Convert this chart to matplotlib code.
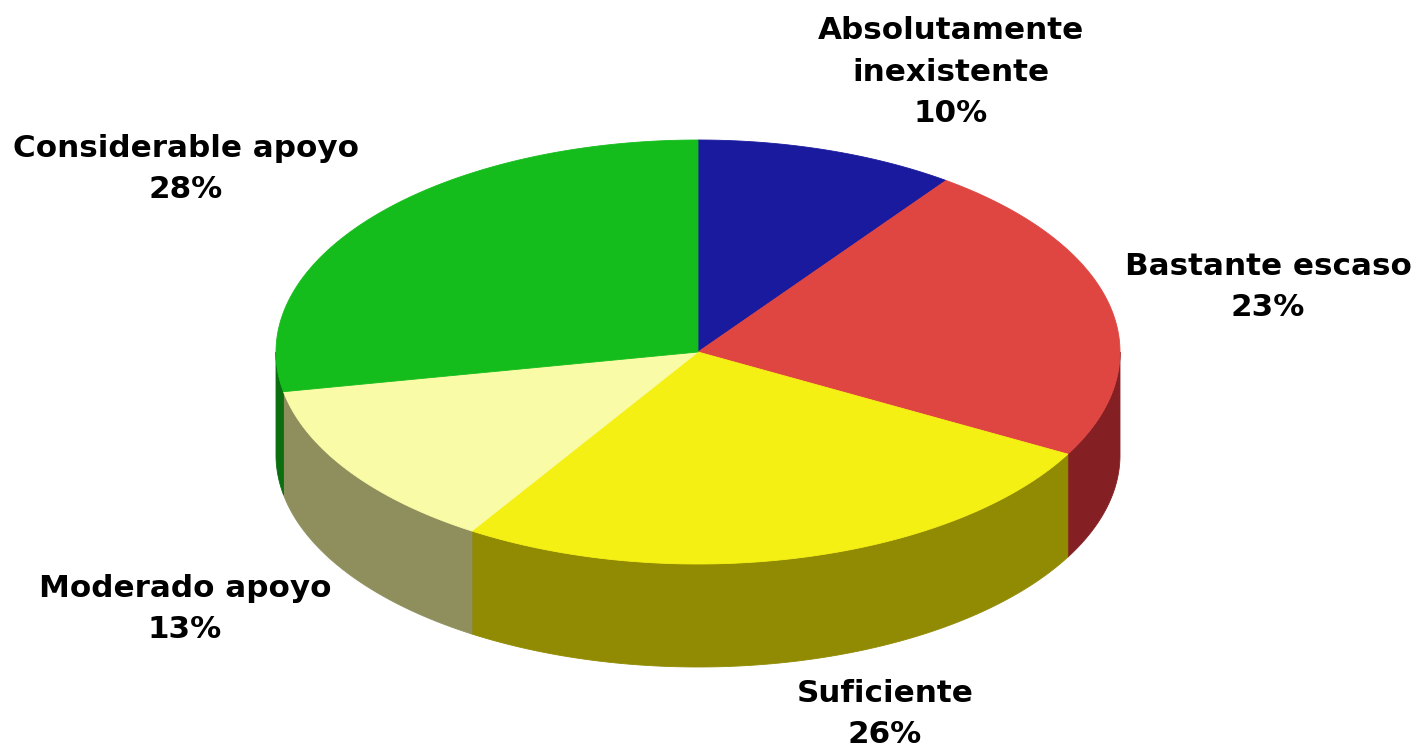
import numpy as np
import matplotlib
matplotlib.use("Agg")
from matplotlib import pyplot as plt
from matplotlib.patches import Polygon

labels = ["Absolutamente\ninexistente", "Bastante escaso", "Suficiente",
          "Moderado apoyo", "Considerable apoyo"]
values = [10, 23, 26, 13, 28]
top_colors = ["#1a1a9e", "#e04641", "#f5f014", "#f9fba6", "#15bd1c"]
side_colors = ["#0e0e5a", "#842024", "#918a03", "#8f8f5e", "#0b6e0f"]

# geometry of the tilted pie (pixels)
cx, cy, rx, ry, depth = 698, 352, 422, 212, 103
# label centres
label_pos = [(951, 72), (1268, 287), (885, 714), (185, 609), (186, 169)]

fig = plt.figure(figsize=(14.13, 7.48), dpi=100)
ax = fig.add_axes([0, 0, 1, 1])
ax.set_xlim(0, 1413)
ax.set_ylim(748, 0)
ax.axis("off")


def arc(a, b, dy=0, n=200):
    t = np.radians(np.linspace(a, b, n))
    return np.column_stack([cx + rx * np.cos(t), cy + dy - ry * np.sin(t)])


# slice angles, start at 12 o'clock going clockwise
total = float(sum(values))
angles = []
start = 90.0
for v in values:
    end = start - v / total * 360.0
    angles.append((end, start))
    start = end

# side walls (only the front half is visible)
for (lo, hi), col in zip(angles, side_colors):
    for wlo, whi in [(-180, 0), (180, 360), (-540, -360)]:
        a, b = max(lo, wlo), min(hi, whi)
        if b > a:
            top = arc(a, b)
            bot = arc(a, b, dy=depth)[::-1]
            ax.add_patch(Polygon(np.vstack([top, bot]), closed=True,
                                 facecolor=col, edgecolor=col, lw=0.6))

# top faces
for (lo, hi), col in zip(angles, top_colors):
    pts = np.vstack([[cx, cy], arc(lo, hi)])
    ax.add_patch(Polygon(pts, closed=True, facecolor=col, edgecolor=col, lw=0.6))

for lab, v, (x, y) in zip(labels, values, label_pos):
    ax.text(x, y, f"{lab}\n{v}%", ha="center", va="center", multialignment="center",
            fontsize=22.3, fontweight="bold", family="DejaVu Sans", linespacing=1.53)

fig.savefig("out.png", dpi=100)
